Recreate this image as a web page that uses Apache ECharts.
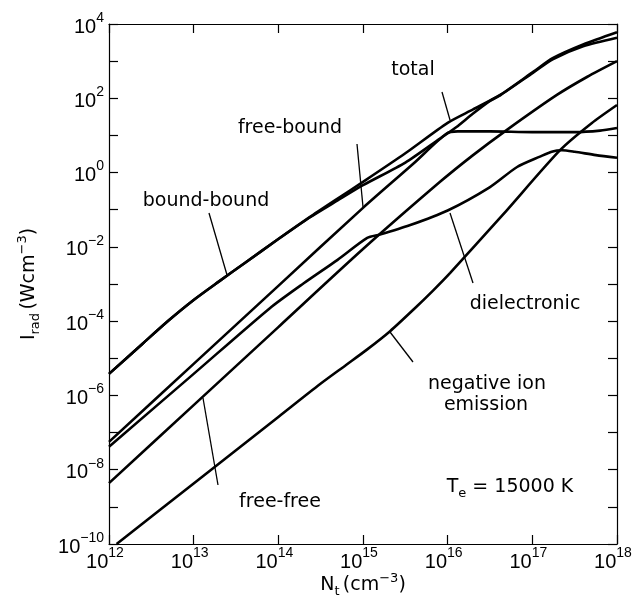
<!DOCTYPE html>
<html><head><meta charset="utf-8">
<script src="https://cdn.jsdelivr.net/npm/echarts@6/dist/echarts.min.js"></script>
<style>html,body{margin:0;padding:0;background:#fff;overflow:hidden}#c{width:633px;height:599px}</style>
</head><body><div id="c"></div>
<script>
// Values stored as [log10(N_t / cm^-3), log10(I_rad / W cm^-3)]
const totalData = [[12,-5.42],[12.4,-4.60],[12.7,-3.99],[13.0,-3.43],[13.3,-2.93],[13.6,-2.44],[14.0,-1.79],[14.37,-1.20],[14.7,-0.70],[15.0,-0.25],[15.5,0.52],[16.0,1.34],[16.3,1.70],[16.62,2.09],[17.01,2.71],[17.24,3.08],[17.6,3.45],[18,3.78]];
const boundBoundData = [[12,-5.42],[12.4,-4.60],[12.7,-3.99],[13.0,-3.43],[13.3,-2.93],[13.6,-2.44],[14.0,-1.79],[14.37,-1.21],[14.7,-0.75],[15.0,-0.34],[15.5,0.27],[15.9,0.90],[16.1,1.22],[16.3,1.59],[16.5,1.93],[16.62,2.08],[17.01,2.69],[17.24,3.05],[17.6,3.40],[18,3.63]];
const freeBoundData = [[12,-7.25],[13,-5.15],[14,-3.05],[15,-0.95],[15.6,0.25],[15.98,1.04],[16.12,1.11],[16.5,1.11],[17.0,1.09],[17.5,1.09],[17.8,1.13],[18,1.20]];
const freeFreeData = [[12,-8.36],[13,-6.26],[14,-4.16],[15,-2.06],[15.91,-0.25],[16.3,0.47],[16.7,1.15],[17.29,2.09],[17.65,2.58],[18,3.0]];
const dielectronicData = [[12,-7.38],[13,-5.42],[13.9,-3.65],[14.3,-2.98],[14.7,-2.35],[15.05,-1.76],[15.2,-1.67],[15.55,-1.42],[16,-1.02],[16.5,-0.39],[16.82,0.15],[17.09,0.43],[17.24,0.57],[17.35,0.60],[17.5,0.56],[17.75,0.47],[18,0.40]];
const negIonData = [[12.09,-10],[13.0,-8.37],[14.0,-6.58],[14.49,-5.70],[14.8,-5.18],[15.05,-4.76],[15.32,-4.27],[15.6,-3.68],[15.83,-3.17],[16.03,-2.70],[16.65,-1.14],[17.33,0.61],[17.7,1.33],[18,1.82]];

const xTickExps = [12,13,14,15,16,17,18];
const yLabelExps = [-10,-8,-6,-4,-2,0,2,4];

const FONT = 'DejaVu Sans';
const TFONT = 'Liberation Sans';
const expLabel = e => '{b|10}{s|' + String(e).replace('-', '\u2212') + '}';
const richTick = {
  b: {fontSize: 20, fontFamily: TFONT, color: '#000', verticalAlign: 'bottom', lineHeight: 26},
  s: {fontSize: 14, fontFamily: TFONT, color: '#000', verticalAlign: 'top', lineHeight: 26}
};

const chart = echarts.init(document.getElementById('c'), null, {renderer: 'canvas'});
const lineStyle = {color: '#000', width: 2.6};
const mk = (name, d) => ({
  name, type: 'line', data: d, showSymbol: false, symbol: 'none',
  smooth: 0.25, lineStyle, clip: true
});

const axisCommon = {
  type: 'value', interval: 1,
  axisLine: {show: true, onZero: false, lineStyle: {color: '#000', width: 1.2}},
  splitLine: {show: false},
  axisTick: {show: true, inside: true, length: 9, lineStyle: {color: '#000', width: 1.2}}
};
const nameRich = {
  n: {fontSize: 19, fontFamily: FONT, color: '#000', verticalAlign: 'middle', lineHeight: 26},
  sub: {fontSize: 13, fontFamily: FONT, color: '#000', verticalAlign: 'bottom', lineHeight: 26},
  s: {fontSize: 13, fontFamily: FONT, color: '#000', verticalAlign: 'top', lineHeight: 26}
};

chart.setOption({
  animation: false,
  backgroundColor: '#fff',
  grid: {left: 109, right: 16, top: 24, bottom: 55, containLabel: false, outerBoundsMode: 'none'},
  xAxis: [
    Object.assign({}, axisCommon, {
      position: 'bottom', min: 12, max: 18,
      axisLabel: {
        margin: 2, hideOverlap: false, padding: [0, 8, 0, 0],
        formatter: v => xTickExps.includes(Math.round(v)) ? expLabel(Math.round(v)) : '',
        rich: richTick
      },
      name: '{n|N}{sub|t} {n|(cm}{s|\u22123}{n|)}',
      nameLocation: 'middle', nameGap: 28, nameMoveOverlap: false,
      nameTextStyle: {rich: nameRich}
    }),
    Object.assign({}, axisCommon, {
      position: 'top', min: 12, max: 18,
      axisLabel: {show: false}
    })
  ],
  yAxis: [
    Object.assign({}, axisCommon, {
      position: 'left', min: -10, max: 4,
      axisLabel: {
        margin: 5, hideOverlap: false,
        formatter: v => yLabelExps.includes(Math.round(v)) ? expLabel(Math.round(v)) : '',
        rich: richTick
      },
      name: '{n|I}{sub|rad} {n|(Wcm}{s|\u22123}{n|)}',
      nameLocation: 'middle', nameGap: 67, nameRotate: 90, nameMoveOverlap: false,
      nameTextStyle: {rich: nameRich}
    }),
    Object.assign({}, axisCommon, {
      position: 'right', min: -10, max: 4,
      axisLabel: {show: false}
    })
  ],
  series: [
    mk('total', totalData),
    mk('bound-bound', boundBoundData),
    mk('free-bound', freeBoundData),
    mk('free-free', freeFreeData),
    mk('dielectronic', dielectronicData),
    mk('negative ion emission', negIonData)
  ]
});

// Annotations (labels with leader lines)
const txt = (text, x, y) => ({
  type: 'text', x, y, silent: true,
  style: {text, fontSize: 19, fontFamily: FONT, fill: '#000', align: 'center', verticalAlign: 'middle'}
});
const lead = (x1, y1, x2, y2) => ({
  type: 'line', silent: true, shape: {x1, y1, x2, y2},
  style: {stroke: '#000', lineWidth: 1.3}
});
chart.setOption({
  graphic: [
    txt('total', 413, 70), lead(442, 92, 450, 120),
    txt('free-bound', 290, 128), lead(357, 144, 363, 207),
    txt('bound-bound', 206, 201), lead(209, 213, 227, 275),
    txt('dielectronic', 525, 304), lead(450, 213, 473, 283),
    txt('negative ion', 487, 384), txt('emission', 486, 405), lead(390, 332, 413, 362),
    txt('free-free', 280, 502), lead(203, 398, 218, 485),
    {
      type: 'text', x: 510, y: 487, silent: true,
      style: {
        text: '{n|T}{sub|e}{n| = 15000 K}', align: 'center', verticalAlign: 'middle',
        rich: {
          n: {fontSize: 19, fontFamily: FONT, fill: '#000', verticalAlign: 'middle', lineHeight: 26},
          sub: {fontSize: 13, fontFamily: FONT, fill: '#000', verticalAlign: 'bottom', lineHeight: 26}
        }
      }
    }
  ]
});
</script></body></html>
